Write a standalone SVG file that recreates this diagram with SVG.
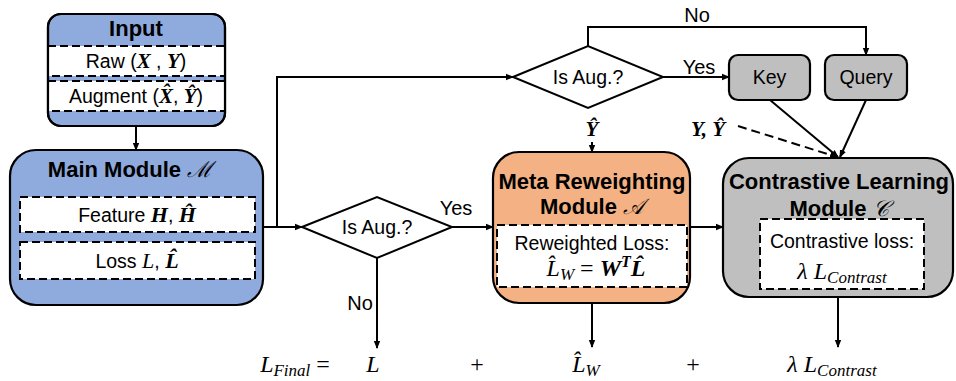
<svg xmlns="http://www.w3.org/2000/svg" width="956" height="381" viewBox="0 0 956 381">
  <defs>
    <marker id="arr" markerWidth="8" markerHeight="8" refX="7" refY="4" orient="auto" markerUnits="userSpaceOnUse">
      <path d="M0,0.8 L8,4 L0,7.2 Z" fill="#000"/>
    </marker>
    <style>
      .box { stroke: #000; stroke-width: 2.2; }
      .blue { fill: #8FAADC; }
      .orange { fill: #F4B183; }
      .gray { fill: #BFBFBF; }
      .dash { fill: #fff; stroke: #000; stroke-width: 2; stroke-dasharray: 8 4; }
      .dia { fill: #fff; stroke: #000; stroke-width: 2; }
      .line { fill: none; stroke: #000; stroke-width: 2; }
      .dline { fill: none; stroke: #000; stroke-width: 2; stroke-dasharray: 9 5; }
      .title { font-family: "Liberation Sans", Arial, sans-serif; font-weight: bold; font-size: 22px; text-anchor: middle; }
      .txt { font-family: "Liberation Sans", Arial, sans-serif; font-size: 19.5px; text-anchor: middle; }
      .lbl { font-family: "Liberation Sans", Arial, sans-serif; font-size: 20px; text-anchor: middle; }
      .m { font-family: "Liberation Serif", "Times New Roman", serif; font-style: italic; }
      .mb { font-family: "Liberation Serif", "Times New Roman", serif; font-style: italic; font-weight: bold; }
      .scr { font-family: "DejaVu Serif", "Liberation Serif", serif; font-style: italic; font-weight: normal; }
      .eq { font-family: "Liberation Serif", "Times New Roman", serif; font-size: 24px; text-anchor: middle; }
    </style>
  </defs>

  <!-- connectors -->
  <g id="connectors">
    <line class="line" x1="136" y1="126" x2="136" y2="150" marker-end="url(#arr)"/>
    <line class="line" x1="263" y1="227" x2="302" y2="227" marker-end="url(#arr)"/>
    <polyline class="line" points="277,227 277,77 513,77" marker-end="url(#arr)"/>
    <polyline class="line" points="588,46 588,27 866,27 866,55" marker-end="url(#arr)"/>
    <line class="line" x1="663" y1="77" x2="729" y2="77" marker-end="url(#arr)"/>
    <line class="line" x1="592" y1="142" x2="592" y2="152" marker-end="url(#arr)"/>
    <line class="line" x1="452" y1="227" x2="493" y2="227" marker-end="url(#arr)"/>
    <line class="line" x1="377" y1="258" x2="377" y2="348" marker-end="url(#arr)"/>
    <line class="line" x1="690" y1="227" x2="723" y2="227" marker-end="url(#arr)"/>
    <line class="line" x1="770" y1="100" x2="838" y2="157" marker-end="url(#arr)"/>
    <line class="line" x1="866" y1="100" x2="840" y2="157" marker-end="url(#arr)"/>
    <line class="dline" x1="738" y1="126" x2="837" y2="157" marker-end="url(#arr)"/>
    <line class="line" x1="592" y1="303" x2="592" y2="347" marker-end="url(#arr)"/>
    <line class="line" x1="838" y1="297" x2="838" y2="347" marker-end="url(#arr)"/>
  </g>

  <!-- connector labels -->
  <g id="labels">
    <text class="lbl" x="697" y="22">No</text>
    <text class="lbl" x="699" y="74">Yes</text>
    <text class="lbl" x="456" y="215">Yes</text>
    <text class="lbl" x="360" y="310">No</text>
    <text class="mb" x="592" y="136" font-size="21" text-anchor="middle">Ŷ</text>
    <text class="mb" x="708" y="136" font-size="21" text-anchor="middle">Y, Ŷ</text>
  </g>

  <!-- input node -->
  <g id="input">
    <rect class="box blue" x="48" y="14" width="177" height="112" rx="13"/>
    <rect class="dash" x="48" y="46" width="177" height="30"/>
    <rect class="dash" x="48" y="81" width="177" height="30"/>
    <rect x="48" y="14" width="177" height="112" rx="13" fill="none" stroke="#000" stroke-width="2.2"/>
    <text class="title" x="136" y="36">Input</text>
    <text class="txt" x="136" y="68">Raw (<tspan class="mb" font-size="21">X</tspan> , <tspan class="mb" font-size="21">Y</tspan>)</text>
    <text class="txt" x="136" y="103">Augment (<tspan class="mb" font-size="21">X̂</tspan>, <tspan class="mb" font-size="21">Ŷ</tspan>)</text>
  </g>

  <!-- main module -->
  <g id="main">
    <rect class="box blue" x="10" y="150" width="253" height="155" rx="26"/>
    <text class="title" x="130" y="177">Main Module <tspan class="scr">ℳ</tspan></text>
    <rect class="dash" x="20" y="197" width="235" height="35"/>
    <text class="txt" x="137" y="222">Feature <tspan class="mb" font-size="22">H</tspan>, <tspan class="mb" font-size="22">Ĥ</tspan></text>
    <rect class="dash" x="20" y="242" width="235" height="37"/>
    <text class="txt" x="137" y="268">Loss <tspan class="m" font-size="22">L</tspan>, <tspan class="mb" font-size="22">L̂</tspan></text>
  </g>

  <!-- decision nodes -->
  <g id="aug-top">
    <polygon class="dia" points="513,77 588,46 663,77 588,108"/>
    <text class="txt" x="588" y="84">Is Aug.?</text>
  </g>
  <g id="aug-bottom">
    <polygon class="dia" points="302,227 377,197 452,227 377,258"/>
    <text class="txt" x="377" y="234">Is Aug.?</text>
  </g>

  <!-- meta reweighting module -->
  <g id="meta">
    <rect class="box orange" x="493" y="152" width="197" height="151" rx="26"/>
    <text class="title" x="592" y="189">Meta Reweighting</text>
    <text class="title" x="592" y="214">Module <tspan class="scr">𝒜</tspan></text>
    <rect class="dash" x="497" y="225" width="190" height="62"/>
    <text class="txt" x="592" y="250">Reweighted Loss:</text>
    <text class="eq" x="596" y="276"><tspan class="m">L̂</tspan><tspan class="m" font-size="17" dy="4">W</tspan><tspan dy="-4"> = </tspan><tspan class="mb">W</tspan><tspan class="mb" font-size="16" dy="-9">T</tspan><tspan class="mb" dy="9">L̂</tspan></text>
  </g>

  <!-- key / query -->
  <g id="key">
    <rect class="box gray" x="729" y="55" width="81" height="45" rx="9"/>
    <text class="txt" x="769.5" y="84">Key</text>
  </g>
  <g id="query">
    <rect class="box gray" x="825" y="55" width="82" height="45" rx="9"/>
    <text class="txt" x="866" y="84">Query</text>
  </g>

  <!-- contrastive learning module -->
  <g id="contrastive">
    <rect class="box gray" x="723" y="158" width="230" height="139" rx="26"/>
    <text class="title" x="839" y="189">Contrastive Learning</text>
    <text class="title" x="839" y="216">Module <tspan class="scr">𝒞</tspan></text>
    <rect class="dash" x="760" y="219" width="164" height="70"/>
    <text class="txt" x="842" y="248">Contrastive loss:</text>
    <text class="eq" x="842" y="279"><tspan class="m">λ L</tspan><tspan class="m" font-size="17" dy="4">Contrast</tspan></text>
  </g>

  <!-- final loss -->
  <g id="final">
    <text class="eq" x="295" y="372"><tspan class="m">L</tspan><tspan class="m" font-size="17" dy="4">Final</tspan><tspan dy="-4"> =</tspan></text>
    <text class="eq m" x="373" y="372">L</text>
    <text class="eq" x="477" y="372">+</text>
    <text class="eq" x="586" y="372"><tspan class="m">L̂</tspan><tspan class="m" font-size="17" dy="4">W</tspan></text>
    <text class="eq" x="693" y="372">+</text>
    <text class="eq" x="832" y="372"><tspan class="m">λ L</tspan><tspan class="m" font-size="17" dy="4">Contrast</tspan></text>
  </g>
</svg>
